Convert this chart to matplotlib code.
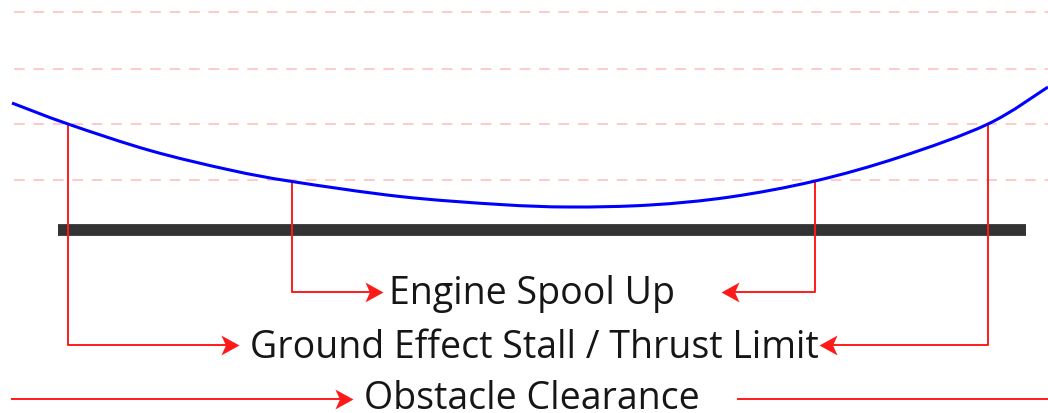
### GROUND EFFECT / TAKEOFF MARGINS DIAGRAM ###

import numpy as np
import matplotlib.pyplot as plt
from matplotlib.path import Path
from matplotlib.patches import PathPatch

# canvas units are pixels of the original drawing (y grows downward)
W, H = 1048, 413

# height profile of the flight path (blue curve)
curve_x = [12, 68, 150, 230, 292, 400, 500, 570, 650, 730, 815, 900, 988, 1048]
curve_y = [103, 124, 150.5, 170, 181.5, 196.5, 204.5, 207, 205, 197, 181, 157, 124, 87]

# faint reference heights
guide_y = [12, 69, 124, 180]
guide_x0 = 14

# ground bar
ground_x = [58, 1026]
ground_y = 230

# limit brackets
labels = ['Engine Spool Up', 'Ground Effect Stall / Thrust Limit', 'Obstacle Clearance']
left_x = [292, 68, 12]
right_x = [815, 988, 1048]
left_top = [181, 124, None]
right_top = [181, 124, None]
row_y = [292, 345, 399]
base_off = [12, 13, 10]
left_tip = [383, 239, 353]
right_tip = [721, 819, None]
right_start = [None, None, 738]
text_x = [532, 534, 532]


def smooth_path(xs, ys):
    # catmull-rom through the read points, drawn as cubic beziers
    p = np.column_stack([xs, ys]).astype(float)
    verts = [p[0]]
    codes = [Path.MOVETO]
    for i in range(len(p) - 1):
        p0 = p[i - 1] if i > 0 else p[i]
        p3 = p[i + 2] if i + 2 < len(p) else p[i + 1]
        c1 = p[i] + (p[i + 1] - p0) / 6.0
        c2 = p[i + 1] - (p3 - p[i]) / 6.0
        verts += [c1, c2, p[i + 1]]
        codes += [Path.CURVE4] * 3
    return Path(verts, codes)


fig = plt.figure(figsize=(10.48, 4.13), dpi=100)
ax = fig.add_axes([0, 0, 1, 1])
ax.set_xlim(0, W)
ax.set_ylim(H, 0)
ax.axis('off')

for gy in guide_y:
    ax.plot([guide_x0, W], [gy, gy], color='#ffc9c9', lw=1.4, dashes=(5.5, 4.5), zorder=1)

ax.plot(ground_x, [ground_y, ground_y], color='#333333', lw=8.5, solid_capstyle='butt', zorder=2)

ax.add_patch(PathPatch(smooth_path(curve_x, curve_y), fill=False, edgecolor='#0000ff', lw=2.2, zorder=4))

# notched arrow heads
head_r = Path([(0, 0), (-1, 0.55), (-0.75, 0), (-1, -0.55), (0, 0)],
              [Path.MOVETO, Path.LINETO, Path.LINETO, Path.LINETO, Path.CLOSEPOLY])
head_l = Path([(0, 0), (1, 0.55), (0.75, 0), (1, -0.55), (0, 0)],
              [Path.MOVETO, Path.LINETO, Path.LINETO, Path.LINETO, Path.CLOSEPOLY])
red = '#ff1a1a'

for i in range(len(labels)):
    ry = row_y[i]
    if left_top[i] is not None:
        ax.plot([left_x[i], left_x[i], left_tip[i] - 8], [left_top[i], ry, ry], color=red, lw=1.4, zorder=3)
    else:
        ax.plot([left_x[i], left_tip[i] - 8], [ry, ry], color=red, lw=1.4, zorder=3)
    ax.plot(left_tip[i], ry, marker=head_r, ms=26, color=red, mew=0, zorder=5)
    if right_top[i] is not None:
        ax.plot([right_x[i], right_x[i], right_tip[i] + 8], [right_top[i], ry, ry], color=red, lw=1.4, zorder=3)
        ax.plot(right_tip[i], ry, marker=head_l, ms=26, color=red, mew=0, zorder=5)
    else:
        ax.plot([right_start[i], right_x[i]], [ry, ry], color=red, lw=1.4, zorder=3)
    ax.text(text_x[i], ry + base_off[i], labels[i], ha='center', va='baseline',
            fontsize=27, family='Open Sans', color='#161616')

fig.savefig('out.png', dpi=100)
